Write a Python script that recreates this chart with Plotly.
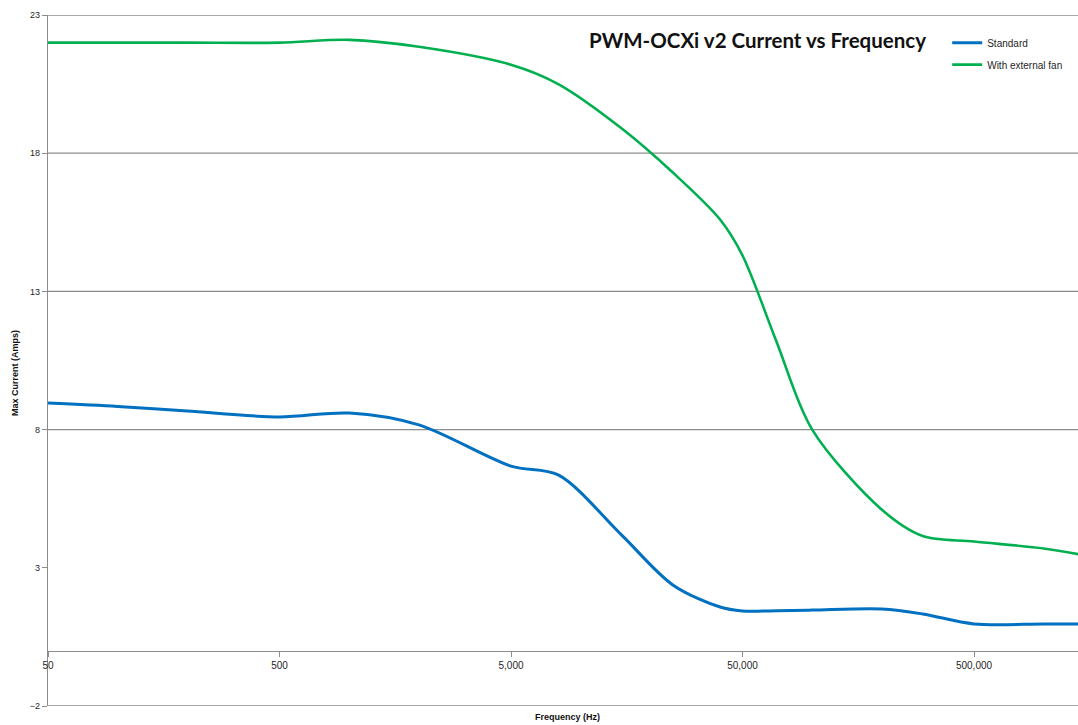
import plotly.graph_objects as go
import math

# Data
freq_hz = [50, 100, 200, 500, 1000, 2000, 5000, 8000, 15000, 25000, 40000,
           50000, 70000, 100000, 200000, 300000, 500000, 1000000, 1500000]
standard = [8.96, 8.84, 8.67, 8.46, 8.6, 8.17, 6.68, 6.36, 4.19, 2.38, 1.58,
            1.44, 1.45, 1.47, 1.51, 1.33, 0.97, 0.97, 0.97]
with_fan = [22.0, 22.0, 22.0, 22.0, 22.1, 21.85, 21.2, 20.5, 18.9, 17.3, 15.6,
            14.3, 11.2, 8.0, 5.1, 4.15, 3.95, 3.7, 3.45]
series_names = ["Standard", "With external fan"]
x_tick_vals = [50, 500, 5000, 50000, 500000]
x_tick_text = ["50", "500", "5,000", "50,000", "500,000"]
y_ticks = [-2, 3, 8, 13, 18, 23]
grid_vals = [8, 13, 18, 23]

W, H = 1078, 725
ml, mr, mt, mb = 48, 0, 15, 19
plot_w = W - ml - mr
px_per_decade = 231.5
x0 = math.log10(50)
x1 = x0 + plot_w / px_per_decade
y_min, y_max = -2, 23

label_font = "Liberation Sans Narrow, Liberation Sans, Arial"

fig = go.Figure()
fig.add_trace(go.Scatter(x=freq_hz, y=standard, name=series_names[0], mode="lines",
                         legendgroup="a",
                         line=dict(color="#0070C0", width=3, shape="spline", smoothing=0.9)))
fig.add_trace(go.Scatter(x=freq_hz, y=with_fan, name=series_names[1], mode="lines",
                         legendgroup="b",
                         line=dict(color="#00B050", width=2.6, shape="spline", smoothing=0.9)))

shapes = []
for g in grid_vals:
    shapes.append(dict(type="line", xref="paper", yref="y", x0=0, x1=1, y0=g, y1=g,
                       line=dict(color="#8c8c8c", width=1.3), layer="below"))
shapes.append(dict(type="line", xref="paper", yref="y", x0=0, x1=1, y0=y_min, y1=y_min,
                   line=dict(color="#8c8c8c", width=1.3), layer="below"))

zero_pos = (0 - y_min) / (y_max - y_min)

fig.update_layout(
    width=W, height=H,
    margin=dict(l=ml, r=mr, t=mt, b=mb, autoexpand=False),
    paper_bgcolor="white", plot_bgcolor="white",
    showlegend=True,
    legend=dict(x=0.873, y=0.981, xanchor="left", yanchor="top",
                font=dict(family=label_font, size=10, color="#262626"),
                bgcolor="rgba(0,0,0,0)", itemwidth=30, tracegroupgap=3),
    xaxis=dict(type="log", range=[x0, x1], tickmode="array",
               tickvals=x_tick_vals, ticktext=x_tick_text,
               anchor="free", position=zero_pos, automargin=False,
               showline=True, linecolor="#8c8c8c", linewidth=1.3,
               ticks="outside", ticklen=5, tickcolor="#8c8c8c",
               showgrid=False, zeroline=False,
               tickfont=dict(family=label_font, size=10, color="#262626")),
    yaxis=dict(range=[y_min, y_max], tickmode="array", tickvals=y_ticks, automargin=False,
               showline=True, linecolor="#8c8c8c", linewidth=1.3,
               ticks="outside", ticklen=5, tickcolor="#8c8c8c",
               showgrid=False, zeroline=False,
               tickfont=dict(family=label_font, size=9, color="#262626")),
    shapes=shapes,
    annotations=[
        dict(text="<b>PWM-OCXi v2 Current vs Frequency</b>", xref="paper", yref="paper",
             x=(757 - ml) / plot_w, y=(706 - 40) / 691, xanchor="center", yanchor="middle",
             showarrow=False, font=dict(family="Lato, Open Sans", size=20.5, color="#111111")),
        dict(text="<b>Max Current (Amps)</b>", xref="paper", yref="paper",
             x=0, xshift=-33, y=(706 - 373) / 691, textangle=-90,
             xanchor="center", yanchor="middle", showarrow=False,
             font=dict(family=label_font, size=9, color="#111111")),
        dict(text="<b>Frequency (Hz)</b>", xref="paper", yref="paper",
             x=(567 - ml) / plot_w, y=0, yshift=-11, xanchor="center", yanchor="middle",
             showarrow=False, font=dict(family=label_font, size=9, color="#111111")),
    ],
)

fig.write_html("out.html", config={"displayModeBar": False},
               post_script="document.body.style.margin='0';document.body.style.overflow='hidden';")
